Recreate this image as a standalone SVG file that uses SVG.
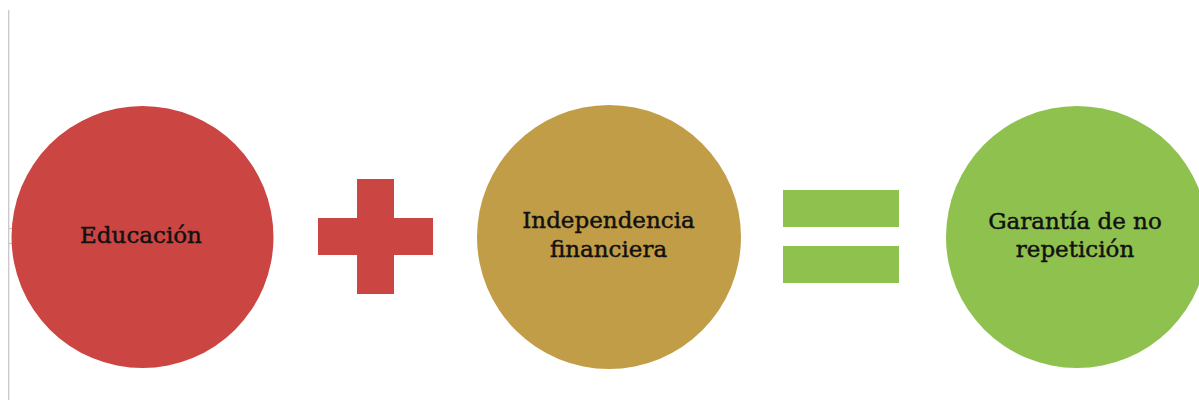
<svg xmlns="http://www.w3.org/2000/svg" width="1199" height="400" viewBox="0 0 1199 400">
<style>
.lbl{font-family:"DejaVu Serif","Liberation Serif",serif;font-size:23px;fill:#111;stroke:#111;stroke-width:0.45;text-anchor:middle}
.red{fill:#CB4543}
.gold{fill:#C29D47}
.green{fill:#8FC14F}
</style>
<rect width="1199" height="400" fill="#fff"/>
<g id="margin" stroke="#c8c8c8" stroke-width="1.3" fill="none">
<line x1="8.7" y1="10" x2="8.7" y2="400"/>
<line x1="8" y1="228.5" x2="13" y2="228.5"/>
<line x1="8" y1="243.5" x2="13" y2="243.5"/>
</g>
<g id="connectors">
<g id="plus" class="red">
<rect x="357" y="179" width="37" height="115"/>
<rect x="318" y="218" width="115" height="37"/>
</g>
<g id="equals" class="green">
<rect x="783" y="190" width="116" height="37"/>
<rect x="783" y="246" width="116" height="37"/>
</g>
</g>
<g id="node-educacion">
<circle class="red" cx="142.5" cy="237" r="131"/>
<text class="lbl" x="141" y="243">Educación</text>
</g>
<g id="node-independencia">
<circle class="gold" cx="609" cy="237" r="132"/>
<text class="lbl" x="608.5" y="228">Independencia</text>
<text class="lbl" x="608.5" y="257">financiera</text>
</g>
<g id="node-garantia">
<circle class="green" cx="1077" cy="237" r="131"/>
<text class="lbl" x="1075" y="229">Garantía de no</text>
<text class="lbl" x="1075" y="257">repetición</text>
</g>
</svg>
